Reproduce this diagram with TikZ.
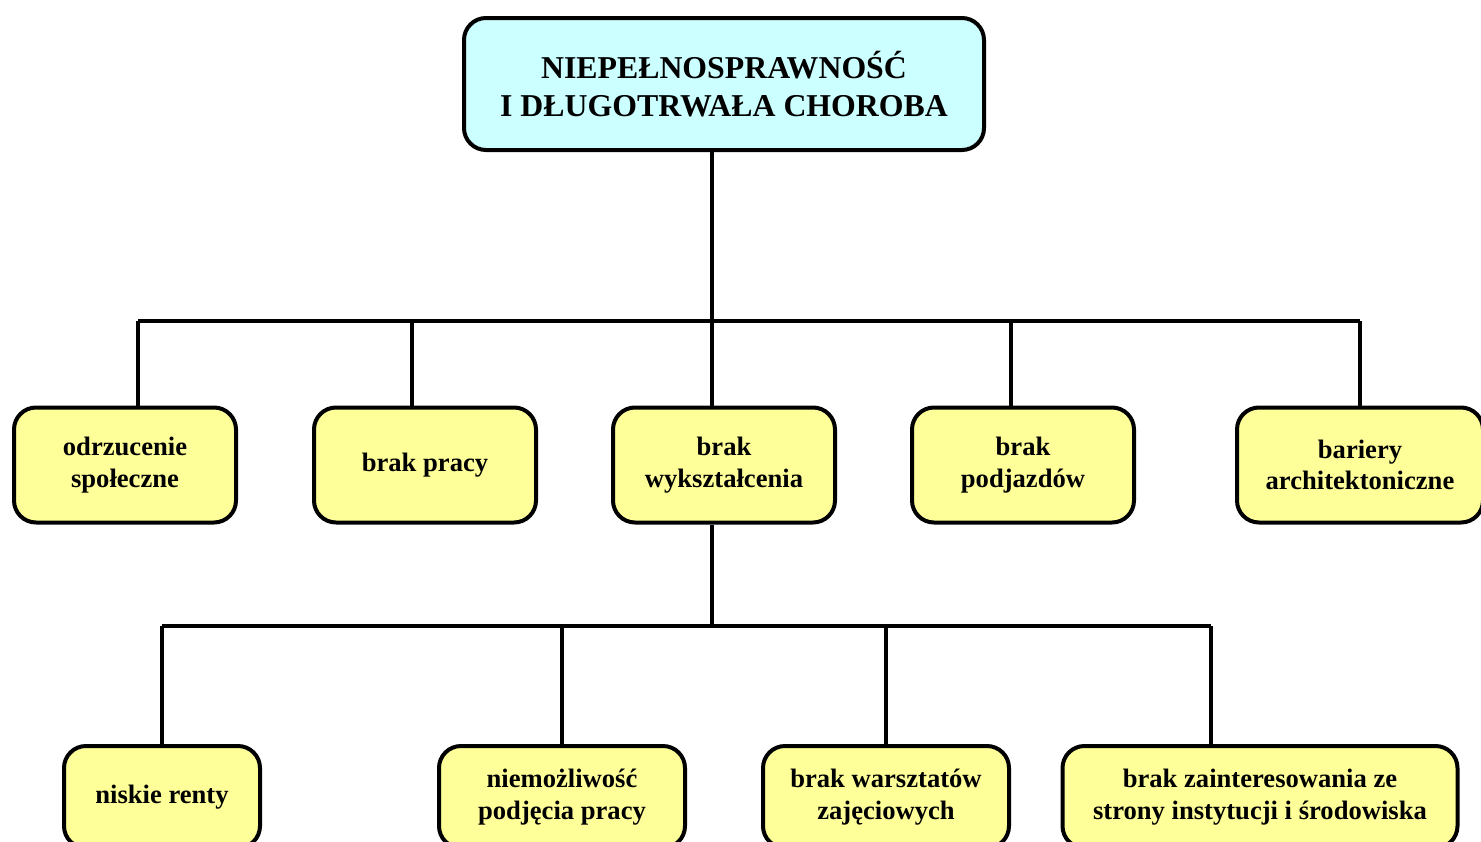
\documentclass[tikz,border=0pt]{standalone}
\usepackage{fontspec}
\setmainfont{Liberation Serif}
\usetikzlibrary{positioning}
\definecolor{headcyan}{HTML}{CCFFFF}
\definecolor{boxyellow}{HTML}{FFFF99}
\tikzset{
  centered/.style = { align=center, anchor=center },
       box/.style = { draw, line width=4pt, rounded corners=22pt, centered, inner sep=0pt,
                      font=\bfseries\fontsize{26.6}{31.5}\selectfont },
   headbox/.style = { box, fill=headcyan, minimum width=520pt, minimum height=132pt,
                      font=\bfseries\fontsize{31.8}{38}\selectfont },
    catbox/.style = { box, fill=boxyellow, minimum width=222pt, minimum height=115pt },
    subbox/.style = { box, fill=boxyellow, minimum height=102pt },
      link/.style = { line width=3.5pt }
}

\begin{document}
\begin{tikzpicture}[x=1pt, y=-1pt]
  \useasboundingbox (0,0) rectangle (1481,841);

  \node [headbox] (top) at (724,84) {NIEPEŁNOSPRAWNOŚĆ\\I DŁUGOTRWAŁA CHOROBA};

  % second row
  \node [catbox] (c1) at (125,465)  {odrzucenie\\społeczne};
  \node [catbox] (c2) at (425,465)  {brak pracy};
  \node [catbox] (c3) at (724,465)  {brak\\wykształcenia};
  \node [catbox] (c4) at (1023,465) {brak\\podjazdów};
  \node [catbox, minimum width=246pt] (c5) at (1360,465) {bariery\\architektoniczne};

  % third row
  \node [subbox, minimum width=196pt] (s1) at (162,797)  {niskie renty};
  \node [subbox, minimum width=246pt] (s2) at (562,797)  {niemożliwość\\podjęcia pracy};
  \node [subbox, minimum width=246pt] (s3) at (886,797)  {brak warsztatów\\zajęciowych};
  \node [subbox, minimum width=395pt] (s4) at (1260,797) {brak zainteresowania ze\\strony instytucji i środowiska};

  \coordinate (j0) at (712,321);
  \coordinate (d1) at (138,321);
  \coordinate (d2) at (412,321);
  \coordinate (d4) at (1011,321);
  \coordinate (d5) at (1360,321);

  \draw [link] (top.south -| j0) -- (j0);
  \draw [link] (d1) -- (d5);
  \draw [link] (d1) -- (d1 |- c1.north);
  \draw [link] (d2) -- (d2 |- c2.north);
  \draw [link] (j0) -- (j0 |- c3.north);
  \draw [link] (d4) -- (d4 |- c4.north);
  \draw [link] (d5) -- (d5 |- c5.north);

  \coordinate (j1) at (712,626);
  \coordinate (e1) at (162,626);
  \coordinate (e2) at (562,626);
  \coordinate (e3) at (886,626);
  \coordinate (e4) at (1211,626);

  \draw [link] (c3.south -| j1) -- (j1);
  \draw [link] (e1) -- (e4);
  \draw [link] (e1) -- (e1 |- s1.north);
  \draw [link] (e2) -- (e2 |- s2.north);
  \draw [link] (e3) -- (e3 |- s3.north);
  \draw [link] (e4) -- (e4 |- s4.north);
\end{tikzpicture}
\end{document}
